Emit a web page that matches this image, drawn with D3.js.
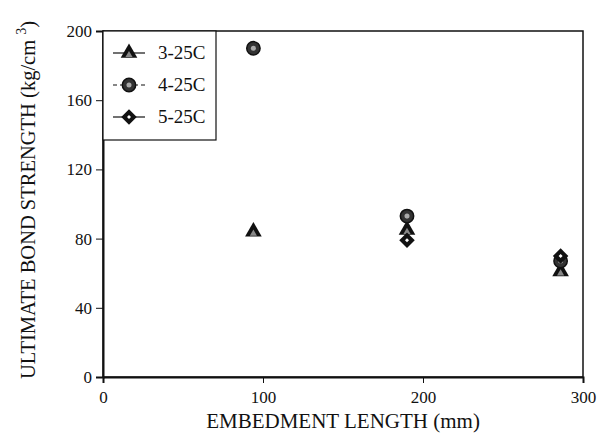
<!DOCTYPE html>
<html>
<head>
<meta charset="utf-8">
<script src="https://cdn.jsdelivr.net/npm/d3@7"></script>
<style>
  body { margin: 0; background: #fff; }
  text { font-family: "Liberation Serif", "DejaVu Serif", serif; fill: #111; }
</style>
</head>
<body>
<div id="chart"></div>
<script>
// data
let seriesNames = ["3-25C", "4-25C", "5-25C"];
let lengths = [94, 190, 286];
let s3 = [84, 85, 61];   // triangles
let s4 = [190, 93, 67];  // circles
let s5 = [null, 79, 70]; // diamonds
let xTicks = [0, 100, 200, 300];
let yTicks = [0, 40, 80, 120, 160, 200];

let width = 611, height = 438;
let margin = {top: 31, right: 28, bottom: 61, left: 103};

let svg = d3.select("#chart")
    .append("svg")
    .attr("width", width)
    .attr("height", height)
    .append("g")
    .attr("transform", "translate(" + margin.left + "," + margin.top + ")");

let w = width - margin.left - margin.right;
let h = height - margin.top - margin.bottom;

let x = d3.scaleLinear().domain([0, 300]).range([0, w]);
let y = d3.scaleLinear().domain([0, 200]).range([h, 0]);

// frame
svg.append("rect")
    .attr("width", w).attr("height", h)
    .attr("fill", "none").attr("stroke", "#111").attr("stroke-width", 1.5);

let xAxis = svg.append("g")
    .attr("transform", "translate(0," + h + ")")
    .call(d3.axisBottom(x).tickValues(xTicks).tickSize(6).tickPadding(8));
let yAxis = svg.append("g")
    .call(d3.axisLeft(y).tickValues(yTicks).tickSize(7).tickPadding(4));

[xAxis, yAxis].forEach(function(a) {
    a.select(".domain").attr("stroke", "#111").attr("stroke-width", 2);
    a.selectAll(".tick line").attr("stroke", "#111");
    a.selectAll(".tick text").style("font-size", "17px").style("font-family", "Liberation Serif, serif").attr("fill", "#111");
});

// axis titles
svg.append("text")
    .attr("transform", "translate(" + (w / 2) + "," + (h + 51) + ")")
    .style("text-anchor", "middle")
    .style("font-size", "21px")
    .text("EMBEDMENT LENGTH (mm)");

let yl = svg.append("text")
    .attr("transform", "translate(" + (-68) + "," + (h / 2 - 4) + ") rotate(-90)")
    .style("text-anchor", "middle")
    .style("font-size", "20.5px");
yl.append("tspan").text("ULTIMATE BOND STRENGTH (kg/cm ");
yl.append("tspan").attr("dy", -9).style("font-size", "14px").text("3");
yl.append("tspan").attr("dy", 9).text(")");

// markers
function drawMarker(g, kind) {
    if (kind === 0) {
        g.append("path").attr("d", d3.symbol().type(d3.symbolTriangle).size(120)()).attr("fill", "#111");
        g.append("path").attr("d", d3.symbol().type(d3.symbolTriangle).size(22)()).attr("fill", "#888").attr("transform", "translate(0,2)");
    } else if (kind === 1) {
        g.append("path").attr("d", d3.symbol().type(d3.symbolCircle).size(140)()).attr("fill", "#333").attr("stroke", "#111").attr("stroke-width", 1.5);
        g.append("path").attr("d", d3.symbol().type(d3.symbolCircle).size(20)()).attr("fill", "#aaa");
    } else {
        g.append("path").attr("d", d3.symbol().type(d3.symbolSquare).size(120)()).attr("fill", "#111").attr("transform", "rotate(45)");
        g.append("path").attr("d", d3.symbol().type(d3.symbolSquare).size(8)()).attr("fill", "#fff").attr("transform", "rotate(45)");
    }
}

let allSeries = [s3, s4, s5];
let points = svg.append("g");
allSeries.forEach(function(s, k) {
    s.forEach(function(v, i) {
        if (v === null) return;
        let g = points.append("g").attr("transform", "translate(" + x(lengths[i]) + "," + y(v) + ")");
        drawMarker(g, k);
    });
});

// legend
let legend = svg.append("g");
legend.append("rect")
    .attr("x", 0).attr("y", 0).attr("width", 113).attr("height", 109)
    .attr("fill", "#fff").attr("stroke", "#111").attr("stroke-width", 1.2);
seriesNames.forEach(function(name, k) {
    let ly = 22 + k * 32;
    legend.append("line")
        .attr("x1", 10).attr("x2", 42).attr("y1", ly).attr("y2", ly)
        .attr("stroke", "#111").attr("stroke-width", 1.2)
        .attr("stroke-dasharray", k === 1 ? "4,3" : null);
    let g = legend.append("g").attr("transform", "translate(26," + ly + ")");
    drawMarker(g, k);
    legend.append("text")
        .attr("x", 55).attr("y", ly + 6)
        .style("font-size", "19px")
        .text(name);
});
</script>
</body>
</html>
